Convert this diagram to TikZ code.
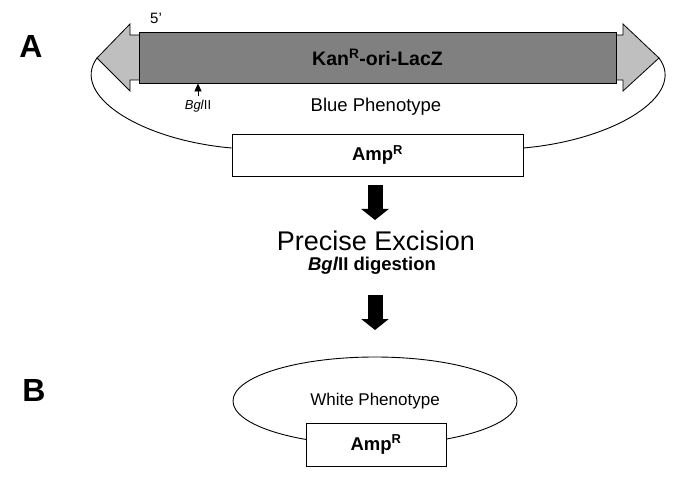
\documentclass[tikz,border=0pt]{standalone}
\usepackage{fontspec}
\setmainfont{Liberation Sans}
\usetikzlibrary{arrows.meta,shapes.geometric}
\tikzset{
  fsz/.style={font=\fontsize{#1}{#1}\selectfont},
  bsz/.style={font=\bfseries\fontsize{#1}{#1}\selectfont},
  genebox/.style={draw, line width=0.8pt, fill=white, inner sep=0pt},
  loopline/.style={draw, line width=0.9pt},
  bigarrow/.style={line width=15pt, -{Triangle[width=27pt,length=11pt]}},
}
\begin{document}
\begin{tikzpicture}[x=1pt, y=-1pt]
\useasboundingbox (0,0) rectangle (685,481);
% panel A
\node[bsz=32] (labA) at (31,46) {A};
\coordinate (tipL) at (97,58);
\coordinate (tipR) at (659,58);
\filldraw[fill=black!25, line width=0.8pt] (tipL) -- (130,24) -- (130,35) -- (623,35) -- (623,24)
  -- (tipR) -- (623,91) -- (623,80) -- (130,80) -- (130,91) -- cycle;
\node[genebox, fill=black!50, minimum width=477pt, minimum height=51pt, bsz=19.5]
  (kan) at (377.5,57.5) {Kan\textsuperscript{R}-ori-LacZ};
\node[fsz=15] (five) at (156,18) {5'};
\node[fsz=13] (bgl) at (198,106) {\textit{Bgl}II};
\draw[line width=0.7pt, -{Triangle[width=7pt,length=8pt]}] (bgl.north) -- (bgl.north |- kan.south);
\node[fsz=18.5] (blue) at (376,107) {Blue Phenotype};
\node[genebox, minimum width=291pt, minimum height=42pt, bsz=18.5]
  (ampA) at (377.5,155) {Amp\textsuperscript{R}};
\draw[loopline] (tipL) .. controls (70,95) and (140,140) .. ([yshift=7pt]ampA.west);
\draw[loopline] (tipR) .. controls (687,95) and (615,140) .. ([yshift=7pt]ampA.east);
% steps
\node[fsz=27] (excise) at (376,241) {Precise Excision};
\node[bsz=18.5] (digest) at (372,266) {\textit{Bgl}II digestion};
\coordinate (ar1s) at (375,185);
\coordinate (ar1e) at (375,220);
\coordinate (ar2s) at (375,295);
\coordinate (ar2e) at (375,330);
\draw[bigarrow] (ar1s) -- (ar1e);
\draw[bigarrow] (ar2s) -- (ar2e);
% panel B
\node[bsz=32] (labB) at (34,390) {B};
\node[ellipse, draw, line width=0.9pt, minimum width=284pt, minimum height=88pt,
      inner sep=0pt, fsz=17] (white) at (375,401) {White Phenotype};
\node[genebox, minimum width=140pt, minimum height=43pt, bsz=18.5]
  (ampB) at (376,444.5) {Amp\textsuperscript{R}};
\end{tikzpicture}
\end{document}
